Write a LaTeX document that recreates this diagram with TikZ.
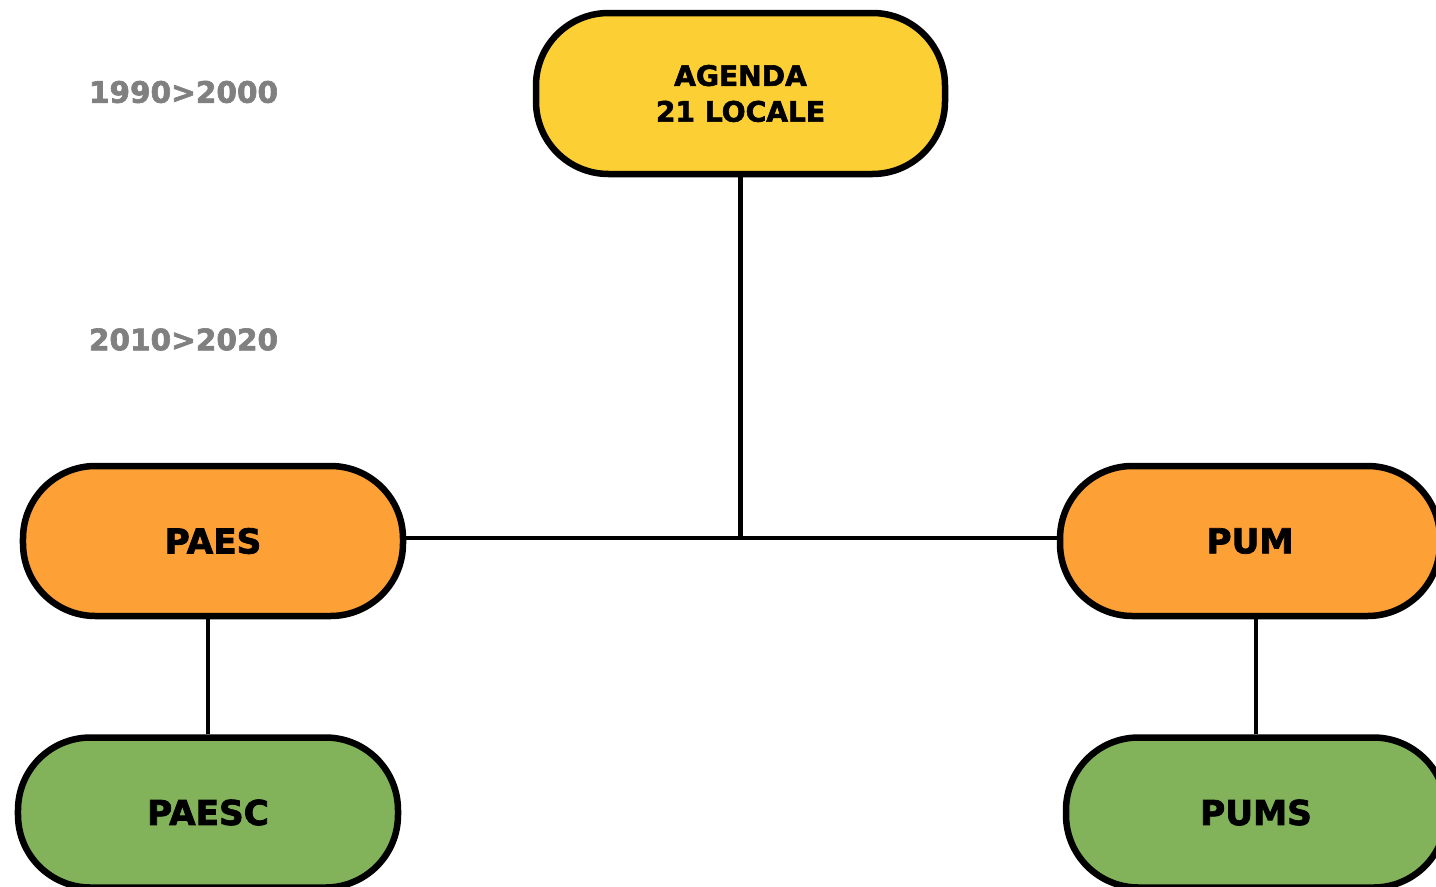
\documentclass[tikz,border=0pt]{standalone}
\usepackage{fontspec}
\setmainfont{DejaVu Sans}[BoldFeatures={FakeBold=2.2}]
\usepackage{tikz}
\usetikzlibrary{
    positioning
}

\definecolor{agendayellow}{RGB}{252,208,52}
\definecolor{planorange}{RGB}{253,160,53}
\definecolor{plangreen}{RGB}{130,179,90}
\definecolor{yeargray}{RGB}{128,128,128}

\begin{document}
\begin{tikzpicture}[
    pillnode/.style  = {rectangle, rounded corners=1.45cm, draw=black, 
                        line width=0.13cm, minimum width=7.6cm, 
                        minimum height=3cm, align=center,
                        font=\bfseries\fontsize{19.5}{23}\selectfont},
    yearlabel/.style = {text=yeargray, 
                        font=\bfseries\fontsize{16.8}{20}\selectfont},
    connector/.style = {draw=black, line width=0.09cm},
]
    \useasboundingbox (0,0) rectangle (28.72,-17.72);

    %Nodes
    \node[yearlabel]                  (firstdecade)  at (3.67,-1.84)  {1990>2000};
    \node[yearlabel]                  (seconddecade) at (3.67,-6.79)  {2010>2020};
    \node[pillnode, fill=agendayellow, minimum width=8.18cm, minimum height=3.22cm,
          font=\bfseries\fontsize{16}{20.4}\selectfont]
                                      (agenda)       at (14.81,-1.87) {AGENDA\\21 LOCALE};
    \node[pillnode, fill=planorange]  (paes)         at (4.26,-10.82) {PAES};
    \node[pillnode, fill=planorange]  (pum)          at (25.0,-10.82) {PUM};
    \node[pillnode, fill=plangreen]   (paesc) [below=2.3cm of paes, xshift=-0.1cm] {PAESC};
    \node[pillnode, fill=plangreen]   (pums)  [below=2.3cm of pum, xshift=0.12cm]  {PUMS};
    \coordinate (hub) at ([yshift=0.06cm]agenda.south |- paes.east);

    %Lines
    \draw[connector] (agenda.south) -- (hub);
    \draw[connector] ([yshift=0.06cm]paes.east) -- ([yshift=0.06cm]pum.west);
    \draw[connector] (paes.south -| paesc.north) -- (paesc.north);
    \draw[connector] (pum.south -| pums.north) -- (pums.north);
\end{tikzpicture}
\end{document}
